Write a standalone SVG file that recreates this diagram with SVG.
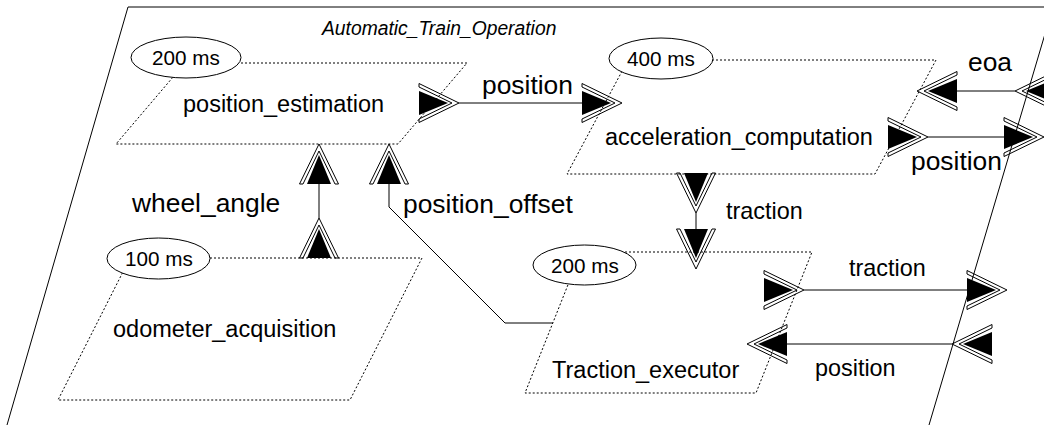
<svg xmlns="http://www.w3.org/2000/svg" xmlns:xlink="http://www.w3.org/1999/xlink" width="1044" height="425" viewBox="0 0 1044 425">
<style>
  .box { fill: none; stroke: #000; stroke-width: 1; stroke-dasharray: 2 2; }
  .per { fill: #fff; stroke: #000; stroke-width: 1; }
  .ln { fill: none; stroke: #000; stroke-width: 1; }
  text { font-family: "Liberation Sans", Arial, sans-serif; fill: #000; }
  .blab { font-size: 23.5px; }
  .clab { font-size: 26.4px; }
  .slab { font-size: 23.4px; }
  .per-t { font-size: 20.7px; }
  .title { font-size: 19.3px; font-style: italic; }
</style>
<defs>
  <g id="port">
    <polygon points="0,0 -40,-19.5 -40,-16 -7,0 -40,16 -40,19.5" fill="none" stroke="#000" stroke-width="1"/>
    <polygon points="-11,0 -40,-12 -40,12" fill="#000"/>
  </g>
</defs>
<rect width="1044" height="425" fill="#fff"/>
<g id="system">
  <polyline class="ln" points="7,425 128,7 1053,7"/>
  <line class="ln" x1="1053" y1="7" x2="929" y2="425"/>
  <text class="title" x="322" y="35">Automatic_Train_Operation</text>
</g>
<g id="position_estimation">
  <polygon class="box" points="185,63 467,63 398,144 116,144"/>
  <ellipse class="per" cx="186" cy="57.5" rx="55" ry="20.5"/>
  <text class="per-t" x="152" y="65">200 ms</text>
  <text class="blab" x="183" y="112">position_estimation</text>
</g>
<g id="odometer_acquisition">
  <polygon class="box" points="130,258 422,258 350,400 58,400"/>
  <ellipse class="per" cx="158.5" cy="258.5" rx="51.5" ry="20.5"/>
  <text class="per-t" x="125" y="266">100 ms</text>
  <text class="blab" x="113" y="337">odometer_acquisition</text>
</g>
<g id="acceleration_computation">
  <polygon class="box" points="628,60 936,60 875,174 567,174"/>
  <ellipse class="per" cx="661" cy="58.5" rx="52" ry="20.5"/>
  <text class="per-t" x="627" y="66">400 ms</text>
  <text class="blab" x="605" y="145">acceleration_computation</text>
</g>
<g id="Traction_executor">
  <polygon class="box" points="581,252 812,252 756,393 525,393"/>
  <ellipse class="per" cx="584.5" cy="265" rx="51.5" ry="20"/>
  <text class="per-t" x="551" y="273">200 ms</text>
  <text class="blab" x="552" y="378">Traction_executor</text>
</g>
<g id="connectors">
  <line class="ln" x1="319" y1="184" x2="319" y2="218"/>
  <use xlink:href="#port" transform="translate(319,218) rotate(-90)"/>
  <use xlink:href="#port" transform="translate(319,144) rotate(-90)"/>
  <text class="clab" x="132" y="212">wheel_angle</text>

  <polyline class="ln" points="389,184 389,207 505,323 553,323"/>
  <use xlink:href="#port" transform="translate(389,144) rotate(-90)"/>
  <text class="clab" x="403" y="213">position_offset</text>

  <line class="ln" x1="459" y1="103" x2="582" y2="103"/>
  <use xlink:href="#port" transform="translate(459,103)"/>
  <use xlink:href="#port" transform="translate(622,103)"/>
  <text class="clab" x="482" y="94">position</text>

  <line class="ln" x1="696" y1="213" x2="696" y2="229"/>
  <use xlink:href="#port" transform="translate(696,213) rotate(90)"/>
  <use xlink:href="#port" transform="translate(696,269) rotate(90)"/>
  <text class="slab" x="726" y="219">traction</text>

  <line class="ln" x1="804" y1="290" x2="967" y2="290"/>
  <use xlink:href="#port" transform="translate(804,290)"/>
  <use xlink:href="#port" transform="translate(1007,290)"/>
  <text class="slab" x="849" y="276">traction</text>

  <line class="ln" x1="787" y1="344" x2="952" y2="344"/>
  <use xlink:href="#port" transform="translate(747,344) rotate(180)"/>
  <use xlink:href="#port" transform="translate(952,344) rotate(180)"/>
  <text class="slab" x="815" y="376">position</text>

  <line class="ln" x1="957" y1="91" x2="1015" y2="91"/>
  <use xlink:href="#port" transform="translate(917,91) rotate(180)"/>
  <use xlink:href="#port" transform="translate(1015,91) rotate(180)"/>
  <text class="clab" x="968" y="71">eoa</text>

  <line class="ln" x1="928" y1="137" x2="1004" y2="137"/>
  <use xlink:href="#port" transform="translate(928,137)"/>
  <use xlink:href="#port" transform="translate(1044,137)"/>
  <text class="clab" x="911" y="170">position</text>
</g>
</svg>
